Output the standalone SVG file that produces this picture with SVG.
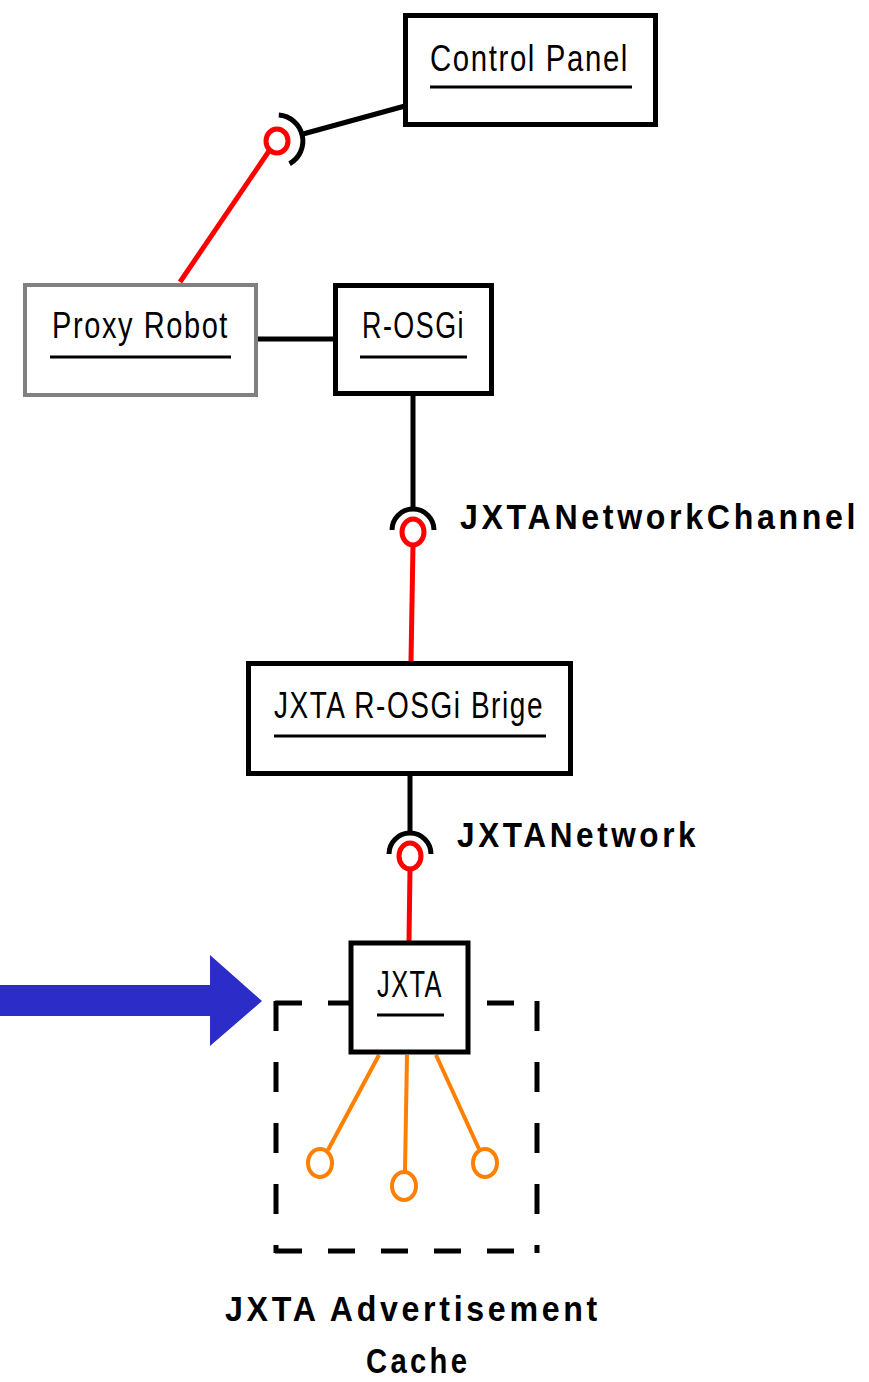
<svg xmlns="http://www.w3.org/2000/svg" width="869" height="1382" viewBox="0 0 869 1382">
<style>
.box{fill:#fff;stroke:#000;stroke-width:5}
.gray{fill:#fff;stroke:#808080;stroke-width:4}
.lbl{font-family:"Liberation Sans",Arial,sans-serif;font-size:36px;letter-spacing:2px;fill:#000}
.blbl{font-family:"Liberation Sans",Arial,sans-serif;font-size:35px;font-weight:bold;letter-spacing:4px;fill:#000}
.ul{stroke:#000;stroke-width:3}
.blk{stroke:#000;stroke-width:5;fill:none}
.red{stroke:#ff0000;stroke-width:5;fill:none}
.org{stroke:#ff7f00;stroke-width:4;fill:none}
.dash{stroke:#000;stroke-width:5;fill:none}
</style>
<rect width="869" height="1382" fill="#fff"/>
<g id="connectors">
  <line class="blk" x1="303" y1="134" x2="405" y2="106"/>
  <path class="blk" d="M278.8,115.1 A26,26 0 0 1 289.6,163.7"/>
  <ellipse class="red" cx="277" cy="141" rx="11" ry="12"/>
  <line class="red" x1="269" y1="151" x2="180" y2="282"/>
  <line class="blk" x1="258" y1="339" x2="334" y2="339"/>
  <line class="blk" x1="413" y1="396" x2="413" y2="507"/>
  <path class="blk" d="M392,530 A21,21 0 0 1 434,530"/>
  <ellipse class="red" cx="413" cy="532" rx="11" ry="13"/>
  <line class="red" x1="413" y1="545" x2="411" y2="661"/>
  <line class="blk" x1="410" y1="776" x2="410" y2="831"/>
  <path class="blk" d="M389,854 A21,21 0 0 1 431,854"/>
  <ellipse class="red" cx="410" cy="856" rx="11" ry="13"/>
  <line class="red" x1="410" y1="869" x2="409" y2="941"/>
</g>
<g id="cache">
  <line class="dash" x1="275" y1="1003" x2="539" y2="1003" stroke-dasharray="27 26"/>
  <line class="dash" x1="275" y1="1251" x2="539" y2="1251" stroke-dasharray="27 26"/>
  <line class="dash" x1="276" y1="1001" x2="276" y2="1253" stroke-dasharray="30 31"/>
  <line class="dash" x1="537" y1="1001" x2="537" y2="1253" stroke-dasharray="30 31"/>
  <line class="org" x1="379" y1="1055" x2="328" y2="1150"/>
  <ellipse class="org" cx="320" cy="1163" rx="12" ry="14"/>
  <line class="org" x1="407" y1="1055" x2="405" y2="1171"/>
  <ellipse class="org" cx="404" cy="1186" rx="12" ry="14"/>
  <line class="org" x1="436" y1="1055" x2="479" y2="1149"/>
  <ellipse class="org" cx="485" cy="1163" rx="12" ry="14"/>
  <text class="blbl" transform="translate(225,1321) scale(0.919,1)">JXTA Advertisement</text>
  <text class="blbl" transform="translate(366,1373) scale(0.835,1)">Cache</text>
</g>
<g id="arrow">
  <polygon fill="#2c2cc8" points="0,985 210,985 210,955 262,1001 210,1046 210,1016 0,1016"/>
</g>
<g id="control-panel">
  <rect class="box" x="405.5" y="15.5" width="250" height="109"/>
  <text class="lbl" x="430" y="71" textLength="199" lengthAdjust="spacingAndGlyphs">Control Panel</text>
  <line class="ul" x1="430" y1="87" x2="632" y2="87"/>
</g>
<g id="proxy-robot">
  <rect class="gray" x="25" y="285" width="231" height="110"/>
  <text class="lbl" x="52" y="338" textLength="177" lengthAdjust="spacingAndGlyphs">Proxy Robot</text>
  <line class="ul" x1="50" y1="357" x2="231" y2="357"/>
</g>
<g id="r-osgi">
  <rect class="box" x="335.5" y="285.5" width="156" height="108"/>
  <text class="lbl" x="362" y="338" textLength="103" lengthAdjust="spacingAndGlyphs">R-OSGi</text>
  <line class="ul" x1="360" y1="357" x2="467" y2="357"/>
</g>
<g id="bridge">
  <rect class="box" x="248.5" y="663.5" width="322" height="110"/>
  <text class="lbl" x="274" y="718" textLength="270" lengthAdjust="spacingAndGlyphs">JXTA R-OSGi Brige</text>
  <line class="ul" x1="274" y1="736" x2="546" y2="736"/>
</g>
<g id="jxta">
  <rect class="box" x="351" y="943" width="117" height="109"/>
  <text class="lbl" x="377" y="997" textLength="66" lengthAdjust="spacingAndGlyphs">JXTA</text>
  <line class="ul" x1="377" y1="1015" x2="444" y2="1015"/>
</g>
<g id="labels">
  <text class="blbl" transform="translate(460,529) scale(0.918,1)">JXTANetworkChannel</text>
  <text class="blbl" transform="translate(457,847) scale(0.901,1)">JXTANetwork</text>
</g>
</svg>
